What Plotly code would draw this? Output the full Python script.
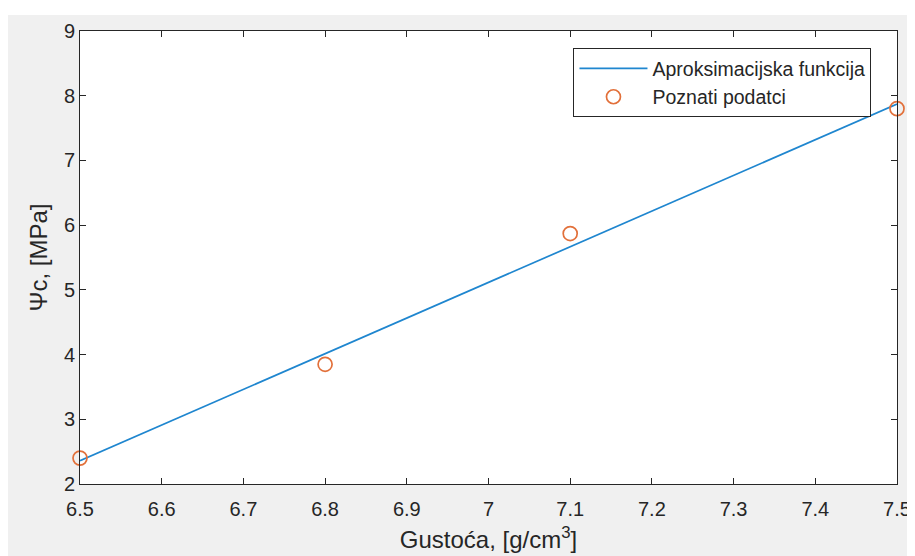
import plotly.graph_objects as go

# Known data points
density = [6.5, 6.8, 7.1, 7.5]
psi_c = [2.40, 3.85, 5.87, 7.80]

# Approximation function (straight line endpoints)
fit_x = [6.5, 7.5]
fit_y = [2.36, 7.87]

x_ticks = [6.5, 6.6, 6.7, 6.8, 6.9, 7.0, 7.1, 7.2, 7.3, 7.4, 7.5]
x_tick_text = ["6.5", "6.6", "6.7", "6.8", "6.9", "7", "7.1", "7.2", "7.3", "7.4", "7.5"]
y_ticks = [2, 3, 4, 5, 6, 7, 8, 9]

axis_col = "#262626"
font_family = "Liberation Sans, Arial, sans-serif"

L, R, T, B = 72, 25, 21, 80
W, H = 915, 556
plot_h = H - T - B

fig = go.Figure()
fig.add_trace(go.Scatter(
    x=fit_x, y=fit_y, mode="lines", name="Aproksimacijska funkcija",
    line=dict(color="#1f86cf", width=1.7),
))
fig.add_trace(go.Scatter(
    x=density, y=psi_c, mode="markers", name="Poznati podatci",
    marker=dict(symbol="circle-open", size=14, color="#E2703A", line=dict(width=1.7)),
    cliponaxis=False,
))

# white strip above the grey figure background (as in the reference screenshot)
fig.add_shape(
    type="rect", xref="paper", yref="paper",
    x0=-1, x1=2, y0=1 + (T - 5) / plot_h, y1=1 + (T + 2) / plot_h,
    fillcolor="#ffffff", line=dict(width=0), layer="above",
)

fig.update_layout(
    width=W, height=H,
    margin=dict(l=L, r=R, t=T, b=B),
    paper_bgcolor="#f0f0f0",
    plot_bgcolor="#ffffff",
    font=dict(family=font_family, size=20, color=axis_col),
    showlegend=True,
    legend=dict(
        x=0.604, y=0.962, xanchor="left", yanchor="top",
        bgcolor="#ffffff", bordercolor=axis_col, borderwidth=1,
        font=dict(size=19.5, color=axis_col),
        tracegroupgap=0, itemwidth=68,
    ),
)
fig.update_xaxes(
    range=[6.5, 7.5], tickvals=x_ticks, ticktext=x_tick_text,
    ticks="inside", ticklen=6, tickcolor=axis_col, tickwidth=1,
    showline=True, linecolor=axis_col, linewidth=1, mirror="allticks",
    showgrid=False, zeroline=False,
    tickfont=dict(size=20, color=axis_col), ticklabelstandoff=7,
    title=dict(text="Gustoća, [g/cm<sup>3</sup>]", font=dict(size=24, color=axis_col), standoff=12),
)
fig.update_yaxes(
    range=[2, 9], tickvals=y_ticks,
    ticks="inside", ticklen=6, tickcolor=axis_col, tickwidth=1,
    showline=True, linecolor=axis_col, linewidth=1, mirror="allticks",
    showgrid=False, zeroline=False,
    tickfont=dict(size=20, color=axis_col),
    title=dict(text="Ψc, [MPa]", font=dict(size=24, color=axis_col), standoff=9),
)

fig.write_html("out.html")
